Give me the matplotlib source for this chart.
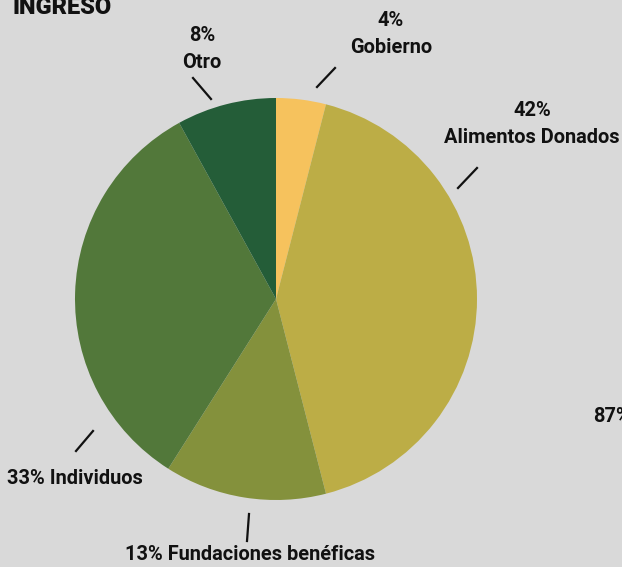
import matplotlib.pyplot as plt

# data
categories = ["Gobierno", "Alimentos Donados", "Fundaciones benéficas", "Individuos", "Otro"]
shares = [4, 42, 13, 33, 8]
colors = ["#f6c25d", "#bcad46", "#84913c", "#52783a", "#245d38"]

# label layout in pixels (x from left, y from top)
label_pos = {
    "Gobierno": (391, 34, "center", "{p}%\n{c}"),
    "Alimentos Donados": (532, 124, "center", "{p}%\n{c}"),
    "Fundaciones benéficas": (250, 554, "center", "{p}% {c}"),
    "Individuos": (75, 479, "center", "{p}% {c}"),
    "Otro": (202, 49, "center", "{p}%\n{c}"),
}
tick_lines = {
    "Gobierno": ((317, 87), (335, 68)),
    "Alimentos Donados": ((458, 188), (477, 168)),
    "Fundaciones benéficas": ((247, 541), (249, 514)),
    "Individuos": ((76, 451), (93, 431)),
    "Otro": ((193, 78), (211, 99)),
}

W, H = 622, 567
bg = "#d9d9d9"
font = ["Roboto", "DejaVu Sans"]

fig = plt.figure(figsize=(W / 100, H / 100), dpi=100, facecolor=bg)
ax = fig.add_axes([0, 0, 1, 1])
ax.set_facecolor(bg)

ax.pie(shares, colors=colors, startangle=90, counterclock=False,
       center=(276, H - 299), radius=201,
       wedgeprops=dict(linewidth=0))

for c, p in zip(categories, shares):
    x, y, ha, fmt = label_pos[c]
    ax.text(x, H - y, fmt.format(p=p, c=c), ha=ha, va="center",
            fontsize=14.4, fontweight="bold", family=font,
            linespacing=1.55, color="#111111")
    (x0, y0), (x1, y1) = tick_lines[c]
    ax.plot([x0, x1], [H - y0, H - y1], color="#111111", lw=1.6)

ax.text(593, H - 417, "87%", ha="left", va="center", fontsize=14.4,
        fontweight="bold", family=font, color="#111111")
ax.text(12, H - 14, "INGRESO", ha="left", va="baseline", fontsize=17,
        fontweight="black", family=font, color="#111111")

ax.set_xlim(0, W)
ax.set_ylim(0, H)
ax.set_aspect("auto")
ax.axis("off")

fig.savefig("out.png", dpi=100, facecolor=bg)
